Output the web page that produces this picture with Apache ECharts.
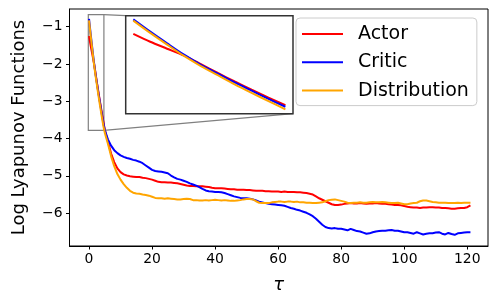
<!DOCTYPE html>
<html><head><meta charset="utf-8">
<script src="https://cdn.jsdelivr.net/npm/echarts@6/dist/echarts.min.js"></script>
<style>html,body{margin:0;padding:0;background:#fff}#c{width:498px;height:299px}</style>
</head><body><div id="c"></div>
<script>
const tau = [0,0.5,1,1.5,2,2.5,3,3.5,4,4.5,
  5,6,7,8,9,10,11,12,13,14,
  15,16,17,18,19,20,21,22,23,24,
  25,26,27,28,29,30,31,32,33,34,
  35,36,37,38,39,40,41,42,43,44,
  45,46,47,48,49,50,51,52,53,54,
  55,56,57,58,59,60,61,62,63,64,
  65,66,67,68,69,70,71,72,73,74,
  75,76,77,78,79,80,81,82,83,84,
  85,86,87,88,89,90,91,92,93,94,
  95,96,97,98,99,100,101,102,103,104,
  105,106,107,108,109,110,111,112,113,114,
  115,116,117,118,119,120,121];

const actor = [-1.25,-1.50,-1.72,-1.94,-2.21,-2.49,-2.76,-3.02,-3.27,-3.51,
  -3.76,-4.08,-4.40,-4.63,-4.80,-4.90,-4.96,-4.99,-5.01,-5.02,
  -5.03,-5.03,-5.05,-5.06,-5.08,-5.10,-5.13,-5.16,-5.17,-5.17,
  -5.18,-5.18,-5.19,-5.20,-5.22,-5.24,-5.26,-5.27,-5.27,-5.28,
  -5.28,-5.28,-5.29,-5.30,-5.32,-5.33,-5.33,-5.33,-5.34,-5.35,
  -5.36,-5.36,-5.37,-5.37,-5.37,-5.38,-5.38,-5.39,-5.40,-5.40,
  -5.40,-5.41,-5.41,-5.42,-5.42,-5.42,-5.43,-5.42,-5.43,-5.43,
  -5.43,-5.44,-5.44,-5.45,-5.46,-5.48,-5.50,-5.55,-5.60,-5.64,
  -5.68,-5.72,-5.76,-5.78,-5.78,-5.77,-5.75,-5.74,-5.73,-5.74,
  -5.74,-5.73,-5.74,-5.75,-5.74,-5.74,-5.73,-5.74,-5.75,-5.75,
  -5.76,-5.77,-5.78,-5.78,-5.79,-5.81,-5.83,-5.84,-5.85,-5.85,
  -5.86,-5.85,-5.85,-5.84,-5.84,-5.85,-5.85,-5.86,-5.86,-5.87,
  -5.88,-5.88,-5.87,-5.86,-5.86,-5.84,-5.79];

const critic = [-0.79,-1.18,-1.55,-1.91,-2.23,-2.51,-2.79,-3.05,-3.31,-3.56,
  -3.77,-4.02,-4.19,-4.31,-4.39,-4.45,-4.49,-4.52,-4.54,-4.57,
  -4.59,-4.62,-4.66,-4.72,-4.78,-4.84,-4.87,-4.88,-4.89,-4.91,
  -4.93,-4.99,-5.04,-5.08,-5.10,-5.13,-5.16,-5.20,-5.23,-5.26,
  -5.30,-5.35,-5.39,-5.41,-5.42,-5.43,-5.43,-5.44,-5.46,-5.49,
  -5.52,-5.55,-5.57,-5.59,-5.60,-5.60,-5.61,-5.63,-5.66,-5.69,
  -5.71,-5.73,-5.75,-5.76,-5.77,-5.78,-5.79,-5.80,-5.83,-5.86,
  -5.88,-5.91,-5.93,-5.96,-5.99,-6.03,-6.08,-6.15,-6.23,-6.31,
  -6.37,-6.40,-6.41,-6.40,-6.42,-6.42,-6.44,-6.46,-6.42,-6.45,
  -6.48,-6.49,-6.52,-6.55,-6.54,-6.51,-6.49,-6.48,-6.47,-6.47,
  -6.46,-6.45,-6.47,-6.47,-6.49,-6.51,-6.51,-6.53,-6.55,-6.51,
  -6.54,-6.57,-6.55,-6.54,-6.54,-6.52,-6.51,-6.55,-6.57,-6.53,
  -6.56,-6.58,-6.54,-6.53,-6.52,-6.51,-6.51];

const distribution = [-0.83,-1.22,-1.59,-1.95,-2.27,-2.56,-2.85,-3.12,-3.38,-3.64,
  -3.84,-4.14,-4.47,-4.74,-4.95,-5.10,-5.22,-5.32,-5.40,-5.45,
  -5.47,-5.48,-5.50,-5.51,-5.53,-5.56,-5.59,-5.60,-5.60,-5.61,
  -5.60,-5.61,-5.62,-5.63,-5.63,-5.62,-5.61,-5.62,-5.65,-5.65,
  -5.66,-5.66,-5.65,-5.66,-5.65,-5.64,-5.65,-5.66,-5.65,-5.66,
  -5.67,-5.67,-5.66,-5.65,-5.63,-5.62,-5.62,-5.63,-5.68,-5.72,
  -5.73,-5.73,-5.73,-5.71,-5.70,-5.69,-5.69,-5.70,-5.69,-5.69,
  -5.70,-5.69,-5.71,-5.71,-5.72,-5.72,-5.73,-5.73,-5.72,-5.71,
  -5.68,-5.65,-5.64,-5.63,-5.65,-5.67,-5.69,-5.72,-5.73,-5.72,
  -5.72,-5.71,-5.72,-5.72,-5.71,-5.70,-5.71,-5.71,-5.70,-5.71,
  -5.72,-5.73,-5.73,-5.72,-5.74,-5.76,-5.76,-5.74,-5.73,-5.72,
  -5.68,-5.66,-5.66,-5.68,-5.70,-5.71,-5.72,-5.72,-5.72,-5.73,
  -5.73,-5.73,-5.72,-5.73,-5.72,-5.72,-5.72];

const seriesNames = ['Actor', 'Critic', 'Distribution'];
const seriesValues = [actor, critic, distribution];
const seriesColors = ['#ff0000', '#0000ff', '#ffa500'];
const xTicks = [0, 20, 40, 60, 80, 100, 120];
const yTicks = [-6, -5, -4, -3, -2, -1];
const xRange = [-6.19, 126.57];
const yRange = [-6.88, -0.525];
const insetXRange = [-0.225, 4.725];
const insetYRange = [-3.78, -0.674];
const insetMaxTau = 4.5;

const FONT = 'DejaVu Sans';
const chart = echarts.init(document.getElementById('c'), null, {renderer: 'canvas'});

const mainSeries = seriesNames.map((name, k) => ({
  name, type: 'line', xAxisIndex: 0, yAxisIndex: 0,
  data: tau.map((t, i) => [t, seriesValues[k][i]]),
  showSymbol: false, symbol: 'none',
  lineStyle: {color: seriesColors[k], width: 2}, itemStyle: {color: seriesColors[k]},
  clip: true, z: 3
}));
const insetSeries = seriesNames.map((name, k) => ({
  name, type: 'line', xAxisIndex: 1, yAxisIndex: 1,
  data: tau.map((t, i) => [t, seriesValues[k][i]]).filter(p => p[0] <= insetMaxTau),
  showSymbol: false, symbol: 'none', smooth: 0.3,
  lineStyle: {color: seriesColors[k], width: 2}, itemStyle: {color: seriesColors[k]},
  clip: true, z: 6
}));

const minus = v => String(v).replace('-', '\u2212');

chart.setOption({
  animation: false,
  backgroundColor: '#fff',
  grid: [
    {left: 69.5, top: 9, width: 418.5, height: 245, show: true, borderColor: '#000', borderWidth: 1, backgroundColor: 'transparent', z: 1},
    {left: 125.7, top: 15.7, width: 167.3, height: 98, show: true, borderColor: '#333', borderWidth: 1.5, backgroundColor: '#fff', z: 5}
  ],
  xAxis: [
    {type: 'value', gridIndex: 0, min: xRange[0], max: xRange[1],
     name: 'τ', nameLocation: 'middle', nameGap: 30,
     nameTextStyle: {fontFamily: FONT, fontSize: 18, fontStyle: 'italic', color: '#000'},
     axisLine: {show: true, onZero: false, lineStyle: {color: '#000', width: 1}},
     axisTick: {show: true, length: 3.5, customValues: xTicks, lineStyle: {color: '#000', width: 1}},
     axisLabel: {customValues: xTicks, margin: 6, fontFamily: FONT, fontSize: 13.9, color: '#000'},
     splitLine: {show: false}},
    {type: 'value', gridIndex: 1, min: insetXRange[0], max: insetXRange[1], show: false}
  ],
  yAxis: [
    {type: 'value', gridIndex: 0, min: yRange[0], max: yRange[1],
     name: 'Log Lyapunov Functions', nameLocation: 'middle', nameGap: 41, nameRotate: 90,
     nameTextStyle: {fontFamily: FONT, fontSize: 18, color: '#000'},
     axisLine: {show: true, onZero: false, lineStyle: {color: '#000', width: 1}},
     axisTick: {show: true, length: 3.5, customValues: yTicks, lineStyle: {color: '#000', width: 1}},
     axisLabel: {customValues: yTicks, margin: 7, fontFamily: FONT, fontSize: 13.9, color: '#000', formatter: minus},
     splitLine: {show: false}},
    {type: 'value', gridIndex: 1, min: insetYRange[0], max: insetYRange[1], show: false}
  ],
  legend: {
    data: seriesNames, orient: 'vertical', left: 296, top: 18,
    padding: [6, 8, 5, 6], itemGap: 8.3, itemWidth: 41, itemHeight: 2, icon: 'rect',
    backgroundColor: 'rgba(255,255,255,0.8)', borderColor: '#cccccc', borderWidth: 1, borderRadius: 4,
    textStyle: {fontFamily: FONT, fontSize: 19, color: '#000', lineHeight: 20, padding: [0, 0, 0, 10]},
    selectedMode: false
  },
  series: mainSeries.concat(insetSeries)
});

const m0 = {xAxisIndex: 0, yAxisIndex: 0};
const m1 = {xAxisIndex: 1, yAxisIndex: 1};
const rTL = chart.convertToPixel(m0, [insetXRange[0], insetYRange[1]]);
const rBR = chart.convertToPixel(m0, [insetXRange[1], insetYRange[0]]);
const iTL = chart.convertToPixel(m1, [insetXRange[0], insetYRange[1]]);
const iBR = chart.convertToPixel(m1, [insetXRange[1], insetYRange[0]]);
const grey = {stroke: '#808080', lineWidth: 1.2, fill: null};
chart.setOption({
  graphic: [
    {type: 'rect', z: 2, shape: {x: rTL[0], y: rTL[1], width: rBR[0] - rTL[0], height: rBR[1] - rTL[1]}, style: grey},
    {type: 'line', z: 2, shape: {x1: rBR[0], y1: rTL[1], x2: iTL[0], y2: iTL[1]}, style: grey},
    {type: 'line', z: 2, shape: {x1: rBR[0], y1: rBR[1], x2: iBR[0], y2: iBR[1]}, style: grey}
  ]
});
</script>
</body></html>
